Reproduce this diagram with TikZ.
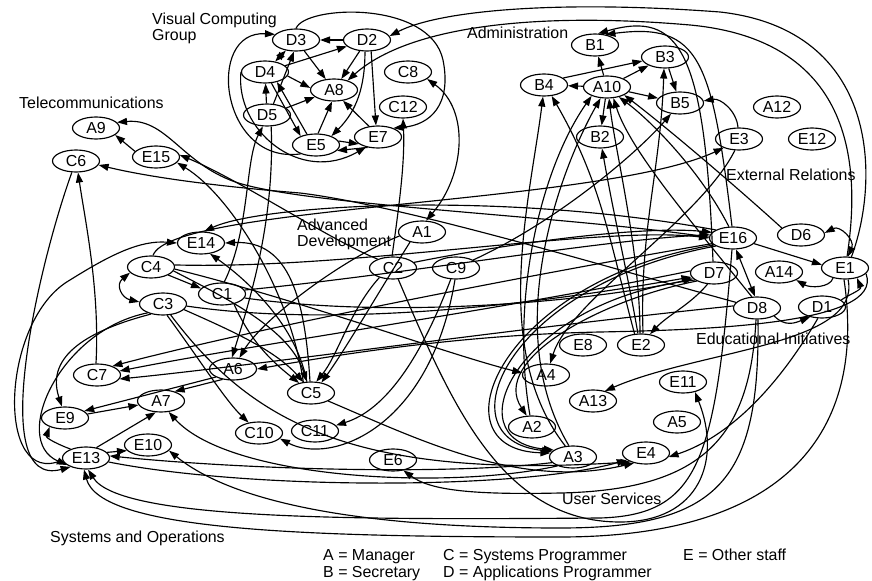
\documentclass[tikz,border=0pt]{standalone}
\usepackage{fontspec}
\setmainfont{Liberation Sans}
\usetikzlibrary{arrows.meta,shapes.geometric}
\begin{document}
\begin{tikzpicture}[x=1bp,y=1bp,
  every node/.style={font=\fontsize{16}{18}\selectfont},
  nd/.style={ellipse,draw,line width=1.15bp,minimum width=47bp,minimum height=22bp,inner sep=0pt},
  e/.style={line width=1.15bp,-{Triangle[length=10bp,width=7bp]}},
  ee/.style={line width=1.15bp,{Triangle[length=10bp,width=7bp]}-{Triangle[length=10bp,width=7bp]}},
  lbl/.style={anchor=base west,inner sep=0pt}]
\useasboundingbox (0,0) rectangle (872,-581);

% group captions
\node[lbl] (tVC) at (152,-25) {Visual Computing};
\node[lbl] (tVC2) at (152,-41) {Group};
\node[lbl] (tTel) at (19,-109) {Telecommunications};
\node[lbl] (tAdm) at (467,-39) {Administration};
\node[lbl] (tExt) at (726,-181) {External Relations};
\node[lbl] (tAdv) at (297,-231) {Advanced};
\node[lbl] (tAdv2) at (297,-247) {Development};
\node[lbl] (tEdu) at (696,-344) {Educational Initiatives};
\node[lbl] (tUsr) at (562,-504) {User Services};
\node[lbl] (tSys) at (50,-542) {Systems and Operations};
% key
\node[lbl] (kA) at (323,-560) {A = Manager};
\node[lbl] (kB) at (323,-577) {B = Secretary};
\node[lbl] (kC) at (443,-560) {C = Systems Programmer};
\node[lbl] (kD) at (443,-577) {D = Applications Programmer};
\node[lbl] (kE) at (683,-560) {E = Other staff};

% Visual Computing Group
\node[nd] (D3) at (296,-40) {D3};
\node[nd] (D2) at (367,-40) {D2};
\node[nd] (D4) at (265,-72) {D4};
\node[nd] (A8) at (334,-90) {A8};
\node[nd] (D5) at (267,-115) {D5};
\node[nd] (C8) at (408,-72) {C8};
\node[nd] (C12) at (403,-107) {C12};
\node[nd] (E5) at (316,-145) {E5};
\node[nd] (E7) at (378,-137) {E7};
% Telecommunications
\node[nd] (A9) at (96,-128) {A9};
\node[nd] (E15) at (156,-157) {E15};
\node[nd] (C6) at (76,-161) {C6};
% Administration
\node[nd] (B1) at (595,-45) {B1};
\node[nd] (B3) at (665,-57) {B3};
\node[nd] (A10) at (607,-87) {A10};
\node[nd] (B4) at (544,-85) {B4};
\node[nd] (B5) at (680,-103) {B5};
\node[nd] (B2) at (600,-137) {B2};
% External Relations
\node[nd] (A12) at (777,-107) {A12};
\node[nd] (E3) at (739,-139) {E3};
\node[nd] (E12) at (812,-139) {E12};
% Advanced Development
\node[nd] (A1) at (422,-232) {A1};
\node[nd] (C2) at (393,-268) {C2};
\node[nd] (C9) at (456,-268) {C9};
\node[nd] (E14) at (201,-243) {E14};
\node[nd] (C4) at (151,-267) {C4};
\node[nd] (C1) at (222,-294) {C1};
\node[nd] (C3) at (163,-304) {C3};
\node[nd] (C7) at (97,-375) {C7};
\node[nd] (A6) at (233,-369) {A6};
\node[nd] (C5) at (311,-393) {C5};
\node[nd] (A4) at (546,-375) {A4};
% Educational Initiatives
\node[nd] (E16) at (733,-238) {E16};
\node[nd] (D6) at (801,-235) {D6};
\node[nd] (D7) at (714,-273) {D7};
\node[nd] (A14) at (779,-272) {A14};
\node[nd] (E1) at (845,-268) {E1};
\node[nd] (D8) at (757,-308) {D8};
\node[nd] (D1) at (822,-307) {D1};
\node[nd] (E8) at (583,-345) {E8};
\node[nd] (E2) at (641,-345) {E2};
% User Services
\node[nd] (E11) at (683,-382) {E11};
\node[nd] (A13) at (593,-401) {A13};
\node[nd] (A5) at (677,-422) {A5};
\node[nd] (E4) at (646,-453) {E4};
\node[nd] (A2) at (532,-427) {A2};
\node[nd] (A3) at (573,-457) {A3};
\node[nd] (E6) at (393,-460) {E6};
% Systems and Operations
\node[nd] (E9) at (65,-418) {E9};
\node[nd] (A7) at (161,-401) {A7};
\node[nd] (E13) at (86,-458) {E13};
\node[nd] (E10) at (148,-445) {E10};
\node[nd] (C10) at (259,-433) {C10};
\node[nd] (C11) at (315,-431) {C11};

% ---- Visual Computing Group links
\draw[e] (D2) -- (D3);
\draw[e] (D3) -- (A8);
\draw[e] (D2) -- (A8);
\draw[e] (D4) -- (D2);
\draw[ee] (D4) -- (D3);
\draw[e] (D5) -- (D4);
\draw[e] (D5.60) -- (D3.-100);
\draw[e] (E5.130) -- (D4.-40);
\draw[e] (D4.-10) -- (A8.175);
\draw[e] (D4.-60) -- (E5.150);
\draw[e] (D5.20) -- (A8.-160);
\draw[e] (E5.80) -- (A8.-100);
\draw[e] (E7.130) -- (A8.-50);
\draw[e] (D2.-100) to[out=-90,in=45] (E5.30);
\draw[e] (D2.-70) -- (E7.100);
\draw[e] (E5.10) -- (E7.200);
\draw[e] (E7.225) -- (E5.-15);
\draw[e] (D4.west) .. controls (235,-130) and (300,-185) .. (E7.-140);
\draw[e] (E5.210) .. controls (220,-165) and (205,-30) .. (D3.165);
\draw[e] (D3.north) .. controls (305,-5) and (430,0) .. (443,-60) .. controls (452,-105) and (430,-125) .. (E7.30);
\draw[ee] (C8.-20) .. controls (470,-110) and (465,-175) .. (A1.70);
\draw[e] (C2.95) .. controls (400,-200) and (405,-160) .. (C12.-90);

% ---- Telecommunications links
\draw[e] (E15.165) -- (A9.-20);
\draw[e] (C7.95) .. controls (100,-290) and (85,-220) .. (C6.-80);
\draw[e] (E16.178) .. controls (560,-215) and (290,-205) .. (230,-180) .. controls (180,-160) and (165,-118) .. (A9.15);
\draw[e] (D8.165) .. controls (600,-265) and (400,-205) .. (300,-193) .. controls (200,-185) and (140,-175) .. (C6.-10);
\draw[e] (C5.125) .. controls (290,-290) and (230,-195) .. (E15.-15);
\draw[e] (C2.150) .. controls (330,-240) and (240,-180) .. (E15.5);

% ---- Administration links
\draw[e] (A10) -- (B1);
\draw[e] (A10) -- (B3);
\draw[e] (B4.20) -- (B3.190);
\draw[e] (A10) -- (B4);
\draw[e] (B3) -- (B5);
\draw[e] (A10) -- (B5);
\draw[e] (A10) -- (B2);
\draw[e] (E3.95) to[out=95,in=10] (B5.5);
\draw[e] (E2.120) to[out=105,in=-60] (B4.-55);
\draw[e] (E2.105) to[out=100,in=-80] (B2.-80);
\draw[e] (E2.80) to[out=92,in=-92] (B3.-95);
\draw[e] (E2.95) .. controls (640,-250) and (615,-150) .. (A10.-80);
\draw[e] (E16.110) .. controls (700,-170) and (650,-120) .. (A10.-40);
\draw[e] (D6.160) .. controls (740,-190) and (670,-130) .. (A10.-25);
\draw[e] (D8.115) .. controls (690,-220) and (630,-150) .. (A10.-60);
\draw[e] (A2.100) .. controls (510,-300) and (540,-170) .. (A10.-150);
\draw[e] (A3.110) .. controls (500,-330) and (560,-170) .. (A10.-120);
\draw[e] (A3.125) .. controls (490,-350) and (530,-200) .. (B4.-95);
\draw[e] (C9.25) .. controls (560,-220) and (640,-150) .. (B5.-130);
\draw[e] (E16.95) .. controls (712,-60) and (700,-22) .. (B1.45);
\draw[e] (D7.95) .. controls (705,-50) and (680,-10) .. (B1.75);
\draw[e] (C4.80) .. controls (170,-205) and (600,-205) .. (E3.-150);
\draw[e] (E3.-110) .. controls (700,-220) and (570,-300) .. (A4.70);

% ---- long links on the right
\draw[e] (E1.60) .. controls (880,-180) and (880,-30) .. (720,-12) .. controls (560,0) and (440,-10) .. (D2.10);
\draw[e] (E1.80) .. controls (862,-160) and (850,-40) .. (690,-25) .. controls (540,-12) and (410,-25) .. (A8.35);
\draw[e] (E1.-75) .. controls (862,-345) and (700,-350) .. (A13.40);
\draw[e] (D1.20) .. controls (848,-295) and (862,-290) .. (E1.-40);
\draw[ee] (D6.5) .. controls (840,-225) and (855,-240) .. (E1.75);
\draw[e] (E1.-140) .. controls (830,-288) and (810,-288) .. (A14.-25);
\draw[e] (E16.-15) -- (E1.172);
\draw[ee] (E16.-75) -- (D8.100);
\draw[e] (D8.-25) .. controls (785,-327) and (795,-323) .. (D1.-140);
\draw[e] (D7.-120) .. controls (690,-305) and (668,-315) .. (E2.50);
\draw[e] (E1.-15) .. controls (885,-325) and (700,-330) .. (600,-332) .. controls (450,-335) and (320,-358) .. (A6.east);

% ---- Advanced Development links
\draw[e] (C4.-25) -- (C1.165);
\draw[ee] (C4.195) .. controls (115,-285) and (122,-298) .. (C3.175);
\draw[e] (C1.80) .. controls (250,-230) and (245,-160) .. (D5.-110);
\draw[e] (D5.-70) .. controls (275,-220) and (250,-300) .. (A6.95);
\draw[e] (A1.190) .. controls (340,-260) and (262,-320) .. (A6.60);
\draw[e] (C5.110) .. controls (295,-320) and (240,-275) .. (E14.-50);
\draw[e] (C5.95) .. controls (305,-300) and (290,-240) .. (E14.east);
\draw[e] (E16.155) .. controls (500,-190) and (260,-205) .. (E14.75);
\draw[e] (E13.-175) .. controls (-5,-490) and (0,-320) .. (70,-280) .. controls (110,-255) and (140,-240) .. (E14.west);
\draw[e] (C1.-40) .. controls (250,-340) and (270,-360) .. (C5.140);
\draw[e] (C3.-15) .. controls (230,-330) and (275,-350) .. (C5.125);
\draw[e] (C4.-10) .. controls (230,-300) and (290,-330) .. (C5.110);
\draw[e] (C2.-145) .. controls (350,-310) and (338,-355) .. (C5.65);
\draw[e] (A1.-140) .. controls (380,-290) and (345,-350) .. (C5.45);
\draw[e] (E16.195) .. controls (500,-280) and (250,-330) .. (C7.30);
\draw[e] (D7.175) .. controls (500,-310) and (250,-345) .. (C7.10);
\draw[e] (D8.175) .. controls (500,-330) and (260,-365) .. (C7.-10);
\draw[e] (C3.-5) .. controls (350,-330) and (560,-300) .. (D7.190);
\draw[e] (C1.-10) .. controls (400,-320) and (600,-300) .. (D7.-165);
\draw[e] (C1.10) .. controls (400,-275) and (600,-240) .. (E16.172);
\draw[e] (C2.15) .. controls (500,-245) and (640,-225) .. (E16.165);
\draw[e] (C4.5) .. controls (350,-270) and (600,-225) .. (E16.180);
\draw[e] (C4.-5) .. controls (300,-300) and (450,-355) .. (A4.175);
\draw[e] (C2.-65) .. controls (450,-400) and (500,-522) .. (620,-522) .. controls (700,-522) and (722,-460) .. (E11.-40);

% ---- Systems and Operations links
\draw[e] (E9) -- (A7);
\draw[e] (A6.-155) -- (E9.20);
\draw[e] (A6.-135) -- (A7.35);
\draw[e] (E13.45) -- (A7.-115);
\draw[e] (E13.15) -- (E10.-165);
\draw[e] (E13.150) to[out=160,in=-110] (E9.-150);
\draw[e] (C3.-140) .. controls (90,-330) and (45,-355) .. (E9.105);
\draw[e] (C6.-110) .. controls (40,-260) and (-15,-490) .. (E13.-150);
\draw[e] (C3.-150) .. controls (60,-330) and (10,-440) .. (E13.-160);
\draw[e] (C3.-70) .. controls (200,-360) and (225,-400) .. (C10.135);
\draw[e] (C9.-115) .. controls (420,-360) and (385,-410) .. (C11.15);
\draw[e] (C9.-95) .. controls (430,-430) and (330,-465) .. (C10.-15);

% ---- User Services links
\draw[e] (A3.-165) .. controls (450,-475) and (250,-470) .. (E13.5);
\draw[e] (E13.-10) .. controls (250,-490) and (520,-490) .. (E4.-160);
\draw[e] (C3.-55) .. controls (250,-420) and (350,-480) .. (E4.-150);
\draw[e] (A3.-150) .. controls (450,-490) and (230,-480) .. (A7.-55);
\draw[e] (C5.-25) .. controls (420,-440) and (520,-490) .. (E4.-140);
\draw[e] (D7.205) .. controls (600,-300) and (490,-360) .. (A2.115);
\draw[e] (E16.200) .. controls (500,-280) and (430,-450) .. (A3.170);
\draw[e] (E16.205) .. controls (505,-285) and (440,-440) .. (A3.165);
\draw[e] (D7.200) .. controls (520,-300) and (450,-440) .. (A3.160);
\draw[e] (D1.-110) .. controls (770,-400) and (720,-440) .. (E4.-10);
\draw[e] (D8.-95) .. controls (750,-440) and (700,-490) .. (560,-493) .. controls (470,-495) and (430,-490) .. (E6.-45);
\draw[e] (D8.-85) .. controls (760,-480) and (720,-528) .. (560,-528) .. controls (350,-528) and (230,-500) .. (E10.-15);
\draw[e] (E16.-95) .. controls (715,-460) and (700,-515) .. (600,-518) .. controls (350,-520) and (120,-520) .. (E13.-80);
\draw[e] (E1.-95) .. controls (865,-420) and (800,-537) .. (560,-537) .. controls (300,-537) and (100,-530) .. (E13.-100);
\end{tikzpicture}
\end{document}
